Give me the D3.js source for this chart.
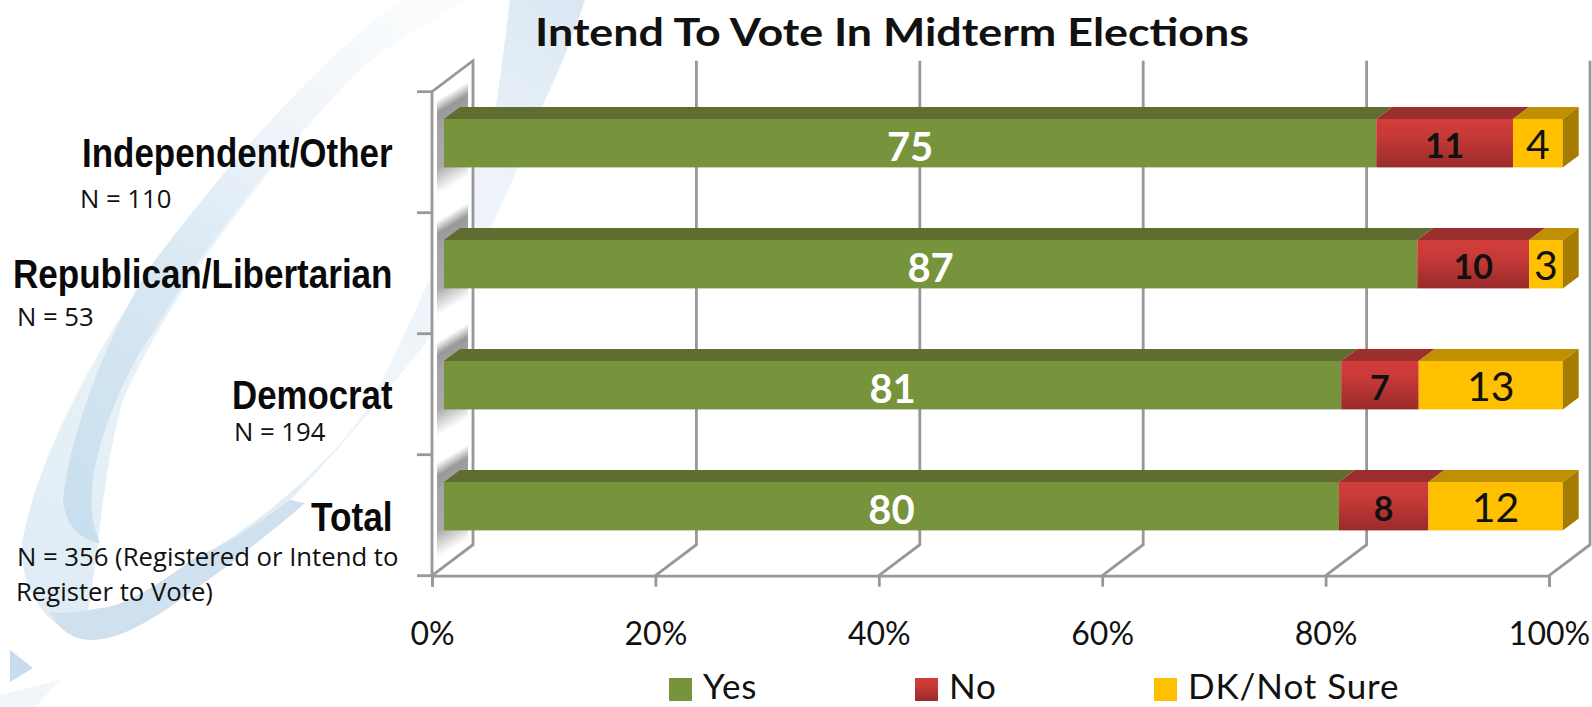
<!DOCTYPE html>
<html><head><meta charset="utf-8">
<script src="https://cdnjs.cloudflare.com/ajax/libs/d3/7.8.5/d3.min.js"></script>
<style>html,body{margin:0;padding:0;background:#fff}svg{display:block}text{font-family:Lato,"Open Sans",sans-serif}</style>
</head><body><svg id="c" width="1592" height="707"></svg>
<script>
const title = "Intend To Vote In Midterm Elections";
const categories = ["Independent/Other","Republican/Libertarian","Democrat","Total"];
const sampleNotes = [["N = 110"],["N = 53"],["N = 194"],["N = 356 (Registered or Intend to","Register to Vote)"]];
const seriesNames = ["Yes","No","DK/Not Sure"];
const yesValues = [75,87,81,80];
const noValues = [11,10,7,8];
const dkValues = [4,3,13,12];
const tickValues = [0,0.2,0.4,0.6,0.8,1];

const svg = d3.select("#c");
const defs = svg.append("defs");
const M = {x0:432,x1:1549,y0:91.7,y1:575.7};
const depth = {dx:41,dy:-31};
const barOffset = {dx:12,dy:-9};
const barDepth = {dx:16,dy:-12};
const GRID = "#989898", GW = 2.8;
const x = d3.scaleLinear().domain([0,1]).range([M.x0,M.x1]);
const xBar = d3.scaleLinear().domain([0,1]).range([M.x0+barOffset.dx,M.x1+barOffset.dx+1.7]);
const y = d3.scaleBand().domain(categories).range([M.y0,M.y1]).paddingInner(0.6).paddingOuter(0.3);
const rows = categories.map((c,i)=>({cat:c,Yes:yesValues[i],No:noValues[i],"DK/Not Sure":dkValues[i]}));
const stacked = d3.stack().keys(seriesNames).offset(d3.stackOffsetExpand)(rows);
const colours = {
 "Yes":{front:"#77933c",top:"#5f6e2e",side:"#5f6e2e"},
 "No":{front:"url(#redGrad)",top:"#9a2f2d",side:"#7a2422"},
 "DK/Not Sure":{front:"#ffc000",top:"#c09000",side:"#a67c00"}};
function grad(id,attrs,stops){const g=defs.append("linearGradient").attr("id",id);
 Object.entries(attrs).forEach(([k,v])=>g.attr(k,v));
 stops.forEach(s=>g.append("stop").attr("offset",s[0]).attr("stop-color",s[1]));}
grad("redGrad",{x1:0,x2:0,y1:0,y2:1},[[0,"#d23d3a"],[0.35,"#c73a38"],[1,"#982b2a"]]);
grad("shade",{x1:0,x2:0,y1:0,y2:1},[[0,"#fff"],[0.14,"#999"],[0.3,"#a4a4a4"],[0.72,"#aaa"],[1,"#fff"]]);
grad("pale",{gradientUnits:"userSpaceOnUse",x1:40,y1:620,x2:420,y2:0},[[0,"#dfecf5"],[0.45,"#e9f2f8"],[0.8,"#f4f8fb"],[1,"#fbfcfe"]]);
grad("dark",{gradientUnits:"userSpaceOnUse",x1:70,y1:540,x2:400,y2:0},[[0,"#c8deee"],[0.45,"#d9e8f3"],[0.75,"#f0f5fa"],[1,"#fafcfd"]]);
grad("ribbon",{gradientUnits:"userSpaceOnUse",x1:220,y1:560,x2:560,y2:0},[[0,"#dde9f3"],[0.35,"#f0f5fa"],[0.7,"#eef4fa"],[1,"#dbe8f3"]]);

// background swoosh
const bg = svg.append("g");
bg.append("path").attr("fill","url(#pale)").attr("d","M470,0 C330,70 200,200 125,310 C80,380 35,470 22,543 C20,590 45,625 83,638 C100,560 100,480 123,400 C170,290 290,130 430,0 Z");
bg.append("path").attr("fill","url(#dark)").attr("d","M400,0 C320,60 230,160 150,267 C110,330 70,430 63,500 C65,525 80,540 100,543 C95,530 90,515 92,495 C92,450 125,370 153,333 C195,260 300,110 440,0 Z");
bg.append("path").attr("fill","url(#ribbon)").attr("d","M510,0 C505,40 500,80 497,100 C480,170 440,260 373,400 C345,445 287,503 217,547 L220,567 C267,527 333,460 420,350 C460,300 520,170 545,100 C560,70 575,30 585,0 Z");
bg.append("path").attr("fill","#cfe1ef").attr("d","M50,612 C60,632 75,640 92,640 C130,640 175,603 222,570 C250,548 280,525 305,503 L290,500 C250,530 220,548 195,557 C160,585 120,608 100,608 C80,612 60,614 50,612 Z");
bg.append("path").attr("fill","#c7dcee").attr("d","M10,650 L33,668 L10,682 Z");
bg.append("path").attr("fill","#f1f6fa").attr("d","M0,707 L0,695 L60,680 L35,707 Z");

// side wall
svg.append("path").attr("fill","#fff").attr("fill-opacity",0.88)
 .attr("d",`M${M.x0},${M.y0} L${M.x0+depth.dx},${M.y0+depth.dy} L${M.x0+depth.dx},${M.y1+depth.dy} L${M.x0},${M.y1} Z`);
// bar shadows on the wall
const wallX = x(0)+5;
svg.append("g").selectAll("rect").data(categories).join("rect").attr("fill","url(#shade)")
 .attr("transform",`translate(${wallX},0) skewY(-31)`)
 .attr("x",0).attr("width",31)
 .attr("y",c=>y(c)+barOffset.dy-19).attr("height",95);

// gridlines
const grid = svg.append("g").attr("fill","none").attr("stroke",GRID).attr("stroke-width",GW);
grid.selectAll("path").data(tickValues).join("path")
 .attr("d",t=>`M${x(t)},${M.y1} L${x(t)+depth.dx},${M.y1+depth.dy} L${x(t)+depth.dx},${M.y0+depth.dy}`+(t===0?` L${x(t)},${M.y0} L${x(t)},${M.y1}`:""));

// axes
const axisX = d3.axisBottom(x).tickValues(tickValues).tickFormat(d3.format(".0%")).tickSize(11).tickPadding(36);
const gx = svg.append("g").attr("transform",`translate(0,${M.y1})`).call(axisX);
gx.select(".domain").attr("stroke",GRID).attr("stroke-width",GW);
gx.selectAll(".tick line").attr("stroke",GRID).attr("stroke-width",GW);
gx.selectAll(".tick text").attr("font-size",32).attr("fill","#111").style("font-family","Lato");
const edges = d3.range(categories.length+1).map(i=>M.y0+i*y.step());
svg.append("g").selectAll("line").data(edges).join("line")
 .attr("x1",x(0)-15).attr("x2",x(0)).attr("y1",d=>d).attr("y2",d=>d).attr("stroke",GRID).attr("stroke-width",GW);

// bars
const bars = svg.append("g");
stacked.forEach(s=>{
 const c = colours[s.key];
 const g = bars.append("g");
 g.selectAll(".top").data(s).join("path").attr("fill",c.top)
  .attr("d",(d,i)=>{const X0=xBar(d[0]),X1=xBar(d[1]),T=y(categories[i])+barOffset.dy;
    return `M${X0},${T} L${X0+barDepth.dx},${T+barDepth.dy} L${X1+barDepth.dx},${T+barDepth.dy} L${X1},${T} Z`;});
 g.selectAll(".front").data(s).join("rect").attr("fill",c.front)
  .attr("x",d=>xBar(d[0])).attr("width",d=>xBar(d[1])-xBar(d[0]))
  .attr("y",(d,i)=>y(categories[i])+barOffset.dy).attr("height",y.bandwidth());
 if(s.key==="DK/Not Sure"){
  g.selectAll(".side").data(s).join("path").attr("fill",c.side)
  .attr("d",(d,i)=>{const X=xBar(d[1]),T=y(categories[i])+barOffset.dy,B=T+y.bandwidth();
    return `M${X},${T} L${X+barDepth.dx},${T+barDepth.dy} L${X+barDepth.dx},${B+barDepth.dy} L${X},${B} Z`;});
 }
 const sty = {"Yes":{fill:"#fff",w:700,s:40,o:4},"No":{fill:"#111",w:700,s:34,o:3},"DK/Not Sure":{fill:"#111",w:400,s:41,o:1}}[s.key];
 g.selectAll("text").data(s).join("text")
  .attr("x",d=>xBar((d[0]+d[1])/2))
  .attr("y",(d,i)=>y(categories[i])+barOffset.dy+y.bandwidth()/2+sty.s*0.35+sty.o)
  .attr("text-anchor","middle").attr("fill",sty.fill).attr("font-weight",sty.w).attr("font-size",sty.s)
  .text(d=>d.data[s.key]);
});

// title
svg.append("text").attr("x",892).attr("y",46).attr("text-anchor","middle").attr("font-weight",700).attr("font-size",39)
 .attr("fill","#111").attr("textLength",714).attr("lengthAdjust","spacingAndGlyphs").text(title);

// category labels
const labelBase = [167,288,409,531], labelStart=[82,13,232,311];
svg.append("g").selectAll("text").data(categories).join("text")
 .attr("x",(d,i)=>labelStart[i]).attr("y",(d,i)=>labelBase[i])
 .attr("font-weight",700).attr("font-size",40).attr("fill","#0a0a0a")
 .style("font-family","'Liberation Sans'")
 .attr("textLength",(d,i)=>392.5-labelStart[i]).attr("lengthAdjust","spacingAndGlyphs").text(d=>d);
const noteX=[80,17,234,17], noteBase=[208,326,441,566];
sampleNotes.forEach((lines,i)=>lines.forEach((l,j)=>{
 svg.append("text").attr("x",noteX[i]-(j?1:0)).attr("y",noteBase[i]+j*35).attr("font-size",25.7).attr("fill","#111")
  .style("font-family","'Open Sans'").text(l);
}));

// legend
const legendX=[669,915,1154];
const lg = svg.append("g");
seriesNames.forEach((n,i)=>{
 lg.append("rect").attr("x",legendX[i]).attr("y",678).attr("width",23).attr("height",23).attr("fill",colours[n].front);
 lg.append("text").attr("x",legendX[i]+34).attr("y",699).attr("font-size",35).attr("letter-spacing",0.9).attr("fill","#111").text(n);
});
</script></body></html>
